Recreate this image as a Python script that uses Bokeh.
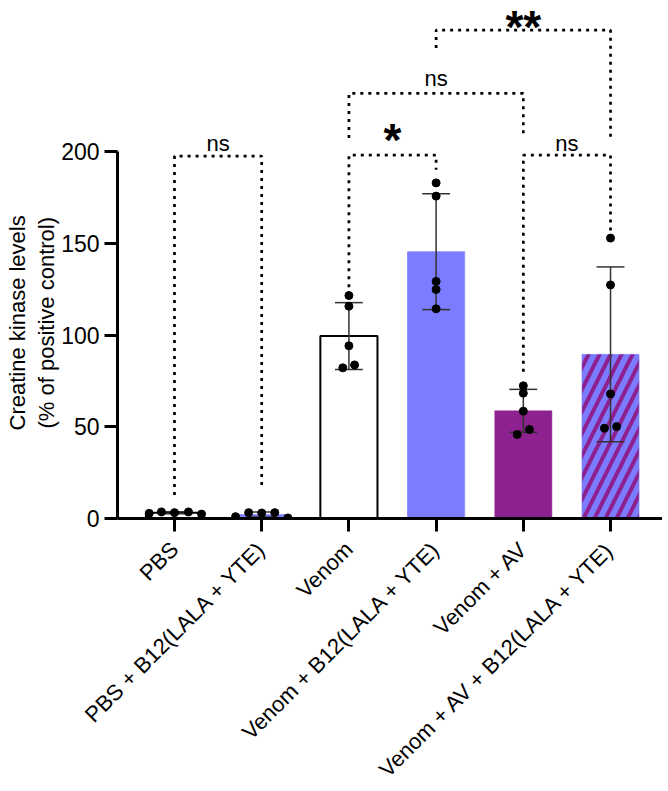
import math
import numpy as np
from bokeh.plotting import figure
from bokeh.models import Range1d, FixedTicker, Title, ColumnDataSource
from bokeh.embed import file_html
from bokeh.resources import INLINE
from bokeh.core.properties import value

# ---------------- data ----------------
groups = ["PBS", "PBS + B12(LALA + YTE)", "Venom", "Venom + B12(LALA + YTE)",
          "Venom + AV", "Venom + AV + B12(LALA + YTE)"]
pbs = [2.8, 3.6, 3.2, 3.6, 2.4]
pbs_b12 = [1.0, 3.2, 3.0, 3.2, 0.3]
venom = [121.5, 115.7, 94.1, 82.1, 83.7]
venom_b12 = [182.9, 175.7, 129.2, 124.8, 114.3]
venom_av = [72.3, 68.3, 58.5, 48.5, 45.8]
venom_av_b12 = [152.8, 127.3, 67.9, 49.2, 50.1]
series = [pbs, pbs_b12, venom, venom_b12, venom_av, venom_av_b12]

# horizontal spread of the dots (category units)
jitter = [[-0.29, -0.15, 0.0, 0.16, 0.31],
          [-0.30, -0.15, 0.0, 0.15, 0.30],
          [0.0, 0.0, 0.0, -0.07, 0.065],
          [0.0, 0.0, 0.0, 0.0, 0.0],
          [0.0, 0.0, 0.0, 0.07, -0.07],
          [0.0, 0.0, 0.0, -0.07, 0.07]]

y_ticks = [0, 50, 100, 150, 200]

# comparisons: group a, group b, bracket top, left leg end, right leg end, label, label y
comp_a = [1, 3, 5, 3, 4]
comp_b = [2, 4, 6, 5, 6]
comp_top = [197.5, 198.0, 198.0, 231.7, 266.2]
comp_left_end = [12.8, 126.0, 80.0, 207.4, 256.4]
comp_right_end = [15.5, 190.0, 150.0, 207.4, 206.0]
comp_label = ["ns", "*", "ns", "ns", "**"]
comp_label_y = [204.6, 206.5, 204.6, 239.9, 282.0]

# ---------------- styles ----------------
FONT = "Liberation Sans"
BLUE = "#7B7CFF"
PURPLE = "#8E2190"
fills = ["white", BLUE, "white", BLUE, PURPLE, BLUE]
outlines = ["black", BLUE, "black", "#8E90FF", PURPLE, BLUE]
outline_w = [2, 0.5, 2, 1, 0.5, 0.5]
hatches = [" ", " ", " ", " ", " ", "/"]

xs = [i + 1 for i in range(len(groups))]
means = [float(np.mean(s)) for s in series]
sds = [float(np.std(s, ddof=1)) for s in series]

p = figure(frame_width=545, frame_height=518, output_backend="svg",
           toolbar_location=None,
           x_range=Range1d(0.3463, 6.596), y_range=Range1d(0, 282.3),
           min_border_left=115, min_border_right=0, min_border_top=0,
           min_border_bottom=0)
p.outline_line_color = None
p.xgrid.visible = False
p.ygrid.visible = False
p.background_fill_color = "white"

bar_src = ColumnDataSource(dict(x=xs, top=means, fill=fills, line=outlines,
                                lw=outline_w, hatch=hatches))
p.vbar(x="x", top="top", bottom=0, width=0.655, source=bar_src,
       fill_color="fill", line_color="line", line_width="lw",
       hatch_pattern="hatch", hatch_color=PURPLE, hatch_scale=22,
       hatch_weight=4)

# error bars (mean +- SD)
cap = 0.16
lo = [m - s for m, s in zip(means, sds)]
hi = [m + s for m, s in zip(means, sds)]
p.segment(x0=xs, y0=lo, x1=xs, y1=hi, line_color="#333333", line_width=1.5)
p.segment(x0=[x - cap for x in xs], y0=lo, x1=[x + cap for x in xs], y1=lo,
          line_color="#333333", line_width=1.5)
p.segment(x0=[x - cap for x in xs], y0=hi, x1=[x + cap for x in xs], y1=hi,
          line_color="#333333", line_width=1.5)

# dots
dx, dy = [], []
for x, s, j in zip(xs, series, jitter):
    for v, o in zip(s, j):
        dx.append(x + o)
        dy.append(v)
p.scatter(dx, dy, size=8, fill_color="black", line_color="black")

# significance brackets
bxs, bys = [], []
for a, b, t, le, re in zip(comp_a, comp_b, comp_top, comp_left_end, comp_right_end):
    bxs.append([a, a, b, b])
    bys.append([le, t, t, re])
p.multi_line(bxs, bys, line_color="black", line_width=2.7, line_dash="3 5")

ns_x, ns_y, ns_t, s1_x, s1_y, s1_t, s2_x, s2_y, s2_t = ([] for _ in range(9))
for a, b, lab, ly in zip(comp_a, comp_b, comp_label, comp_label_y):
    cx = (a + b) / 2
    if lab == "ns":
        ns_x.append(cx); ns_y.append(ly); ns_t.append(lab)
    elif lab == "*":
        s1_x.append(cx); s1_y.append(ly); s1_t.append(lab)
    else:
        s2_x.append(cx); s2_y.append(ly); s2_t.append(lab)
p.text(ns_x, ns_y, text=ns_t, text_font=value(FONT), text_font_size="22px",
       text_align="center", text_baseline="alphabetic", text_color="black")
p.text(s1_x, s1_y, text=s1_t, text_font=value(FONT), text_font_size="46px",
       text_font_style="bold", text_align="center", text_baseline="middle",
       text_color="black")
p.text(s2_x, s2_y, text=s2_t, text_font=value(FONT), text_font_size="46px",
       text_font_style="bold", text_align="center", text_baseline="top",
       text_color="black")

# axes
for ax in (p.xaxis, p.yaxis):
    ax.axis_line_width = 3
    ax.major_tick_line_width = 3
    ax.major_tick_out = 13
    ax.major_tick_in = 0
    ax.minor_tick_line_color = None
    ax.major_label_text_font = FONT
    ax.major_label_text_font_size = "23px"
    ax.major_label_text_color = "black"
    ax.axis_line_color = "black"
    ax.major_tick_line_color = "black"

p.yaxis.ticker = FixedTicker(ticks=y_ticks)
p.yaxis.bounds = (0, 200)
p.yaxis.major_label_standoff = 5

p.xaxis.ticker = FixedTicker(ticks=xs)
p.xaxis.major_label_overrides = {x: g for x, g in zip(xs, groups)}
p.xaxis.major_label_orientation = math.pi / 4
p.xaxis.major_label_standoff = 14
p.xaxis.major_label_text_font_size = "22px"

# two-line y axis title
for txt, off, so in (("(% of positive control)", 90, 0),
                     ("Creatine kinase levels", 88, 4)):
    p.add_layout(Title(text=txt, align="left", offset=off, standoff=so,
                       text_font=FONT, text_font_size="22px",
                       text_font_style="normal", text_color="black"), "left")

open("out.html", "w").write(file_html(p, INLINE))
